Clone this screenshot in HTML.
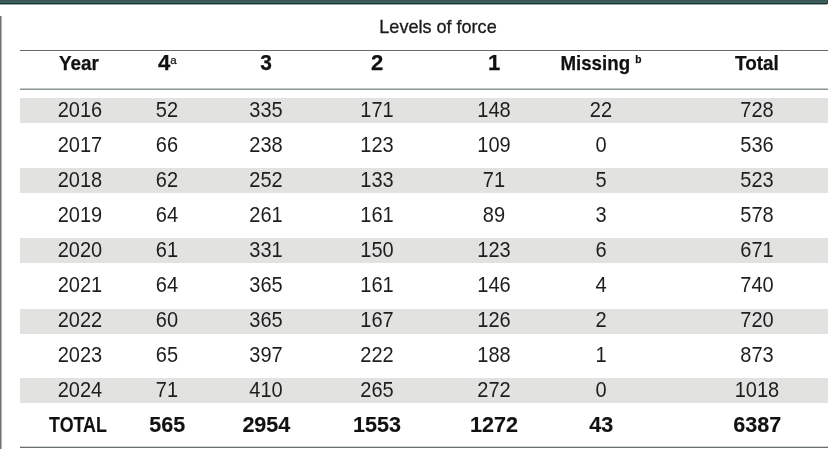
<!DOCTYPE html>
<html><head><meta charset="utf-8"><title>Levels of force</title><style>
html,body{margin:0;padding:0;background:#fff;}
body{width:829px;height:449px;position:relative;overflow:hidden;font-family:"Liberation Sans",Arial,sans-serif;}
.bar{position:absolute;left:0;top:0;width:828px;height:4px;box-shadow:inset -1px 0 0 #2a4746;background:linear-gradient(#3a5757 0,#3a5858 2px,#3e6260 2px,#3e6260 3px,#163535 3px,#163535 4px);}
.bar2{position:absolute;left:0;top:4px;width:827px;height:1px;background:#9aa6a5;}
.vl{position:absolute;left:0;top:16px;width:1px;height:433px;background:#6b7372;box-shadow:1px 0 0 #b3b8b7;}
.hl{position:absolute;left:20px;width:808px;}
.st{position:absolute;left:20px;width:808px;height:25px;background:#e2e2e1;}
.c{position:absolute;width:200px;height:0;text-align:center;white-space:nowrap;line-height:0;transform-origin:100px 0;}
.d{color:#1e1e1e;}
.h{font-weight:bold;color:#111;-webkit-text-stroke:0.25px #111;}
.t{font-weight:bold;color:#111;-webkit-text-stroke:0.15px #111;}
.title{color:#1a1a1a;-webkit-text-stroke:0.3px #1a1a1a;}
.sup{position:relative;top:-6.3px;font-size:11.5px;font-weight:normal;}
.sup.b{font-weight:bold;}
</style></head><body>
<div class="bar"></div>
<div class="bar2"></div>
<div class="vl"></div>
<div class="hl" style="top:50px;height:1px;background:#646a69;"></div>
<div class="hl" style="top:88px;height:1px;background:#c3c9c8;"></div>
<div class="hl" style="top:89px;height:1px;background:#8b9391;"></div>
<div class="hl" style="top:446px;height:1px;background:#d0d4d4;"></div>
<div class="hl" style="top:447px;height:1px;background:#6a7070;"></div>
<div class="st" style="top:98px"></div>
<div class="st" style="top:168px"></div>
<div class="st" style="top:238px"></div>
<div class="st" style="top:309px"></div>
<div class="st" style="top:378px"></div>
<div class="c title" style="left:338.00px;top:26.63px;font-size:17.8px;transform:scaleX(1.015)">Levels of force</div>
<div class="c h" style="left:-20.70px;top:62.72px;font-size:21px;transform:scaleX(0.9)">Year</div>
<div class="c h" style="left:67.30px;top:62.98px;font-size:22px">4<span class="sup">a</span></div>
<div class="c h" style="left:166.30px;top:62.98px;font-size:22px;transform:scaleX(0.95)">3</div>
<div class="c h" style="left:277.00px;top:62.98px;font-size:22px">2</div>
<div class="c h" style="left:394.00px;top:62.98px;font-size:22px">1</div>
<div class="c h" style="left:500.60px;top:62.72px;font-size:21px;transform:scaleX(0.891)">Missing <span class="sup b">b</span></div>
<div class="c h" style="left:657.00px;top:62.72px;font-size:21px;transform:scaleX(0.9)">Total</div>
<div class="c d" style="left:-20.50px;top:109.58px;font-size:22px;transform:scaleX(0.91)">2016</div>
<div class="c d" style="left:67.30px;top:109.58px;font-size:22px;transform:scaleX(0.91)">52</div>
<div class="c d" style="left:166.30px;top:109.58px;font-size:22px;transform:scaleX(0.91)">335</div>
<div class="c d" style="left:277.00px;top:109.58px;font-size:22px;transform:scaleX(0.91)">171</div>
<div class="c d" style="left:394.00px;top:109.58px;font-size:22px;transform:scaleX(0.91)">148</div>
<div class="c d" style="left:500.90px;top:109.58px;font-size:22px;transform:scaleX(0.91)">22</div>
<div class="c d" style="left:657.40px;top:109.58px;font-size:22px;transform:scaleX(0.91)">728</div>
<div class="c d" style="left:-20.50px;top:144.58px;font-size:22px;transform:scaleX(0.91)">2017</div>
<div class="c d" style="left:67.30px;top:144.58px;font-size:22px;transform:scaleX(0.91)">66</div>
<div class="c d" style="left:166.30px;top:144.58px;font-size:22px;transform:scaleX(0.91)">238</div>
<div class="c d" style="left:277.00px;top:144.58px;font-size:22px;transform:scaleX(0.91)">123</div>
<div class="c d" style="left:394.00px;top:144.58px;font-size:22px;transform:scaleX(0.91)">109</div>
<div class="c d" style="left:500.90px;top:144.58px;font-size:22px;transform:scaleX(0.91)">0</div>
<div class="c d" style="left:657.40px;top:144.58px;font-size:22px;transform:scaleX(0.91)">536</div>
<div class="c d" style="left:-20.50px;top:179.58px;font-size:22px;transform:scaleX(0.91)">2018</div>
<div class="c d" style="left:67.30px;top:179.58px;font-size:22px;transform:scaleX(0.91)">62</div>
<div class="c d" style="left:166.30px;top:179.58px;font-size:22px;transform:scaleX(0.91)">252</div>
<div class="c d" style="left:277.00px;top:179.58px;font-size:22px;transform:scaleX(0.91)">133</div>
<div class="c d" style="left:394.00px;top:179.58px;font-size:22px;transform:scaleX(0.91)">71</div>
<div class="c d" style="left:500.90px;top:179.58px;font-size:22px;transform:scaleX(0.91)">5</div>
<div class="c d" style="left:657.40px;top:179.58px;font-size:22px;transform:scaleX(0.91)">523</div>
<div class="c d" style="left:-20.50px;top:214.58px;font-size:22px;transform:scaleX(0.91)">2019</div>
<div class="c d" style="left:67.30px;top:214.58px;font-size:22px;transform:scaleX(0.91)">64</div>
<div class="c d" style="left:166.30px;top:214.58px;font-size:22px;transform:scaleX(0.91)">261</div>
<div class="c d" style="left:277.00px;top:214.58px;font-size:22px;transform:scaleX(0.91)">161</div>
<div class="c d" style="left:394.00px;top:214.58px;font-size:22px;transform:scaleX(0.91)">89</div>
<div class="c d" style="left:500.90px;top:214.58px;font-size:22px;transform:scaleX(0.91)">3</div>
<div class="c d" style="left:657.40px;top:214.58px;font-size:22px;transform:scaleX(0.91)">578</div>
<div class="c d" style="left:-20.50px;top:249.58px;font-size:22px;transform:scaleX(0.91)">2020</div>
<div class="c d" style="left:67.30px;top:249.58px;font-size:22px;transform:scaleX(0.91)">61</div>
<div class="c d" style="left:166.30px;top:249.58px;font-size:22px;transform:scaleX(0.91)">331</div>
<div class="c d" style="left:277.00px;top:249.58px;font-size:22px;transform:scaleX(0.91)">150</div>
<div class="c d" style="left:394.00px;top:249.58px;font-size:22px;transform:scaleX(0.91)">123</div>
<div class="c d" style="left:500.90px;top:249.58px;font-size:22px;transform:scaleX(0.91)">6</div>
<div class="c d" style="left:657.40px;top:249.58px;font-size:22px;transform:scaleX(0.91)">671</div>
<div class="c d" style="left:-20.50px;top:284.58px;font-size:22px;transform:scaleX(0.91)">2021</div>
<div class="c d" style="left:67.30px;top:284.58px;font-size:22px;transform:scaleX(0.91)">64</div>
<div class="c d" style="left:166.30px;top:284.58px;font-size:22px;transform:scaleX(0.91)">365</div>
<div class="c d" style="left:277.00px;top:284.58px;font-size:22px;transform:scaleX(0.91)">161</div>
<div class="c d" style="left:394.00px;top:284.58px;font-size:22px;transform:scaleX(0.91)">146</div>
<div class="c d" style="left:500.90px;top:284.58px;font-size:22px;transform:scaleX(0.91)">4</div>
<div class="c d" style="left:657.40px;top:284.58px;font-size:22px;transform:scaleX(0.91)">740</div>
<div class="c d" style="left:-20.50px;top:319.58px;font-size:22px;transform:scaleX(0.91)">2022</div>
<div class="c d" style="left:67.30px;top:319.58px;font-size:22px;transform:scaleX(0.91)">60</div>
<div class="c d" style="left:166.30px;top:319.58px;font-size:22px;transform:scaleX(0.91)">365</div>
<div class="c d" style="left:277.00px;top:319.58px;font-size:22px;transform:scaleX(0.91)">167</div>
<div class="c d" style="left:394.00px;top:319.58px;font-size:22px;transform:scaleX(0.91)">126</div>
<div class="c d" style="left:500.90px;top:319.58px;font-size:22px;transform:scaleX(0.91)">2</div>
<div class="c d" style="left:657.40px;top:319.58px;font-size:22px;transform:scaleX(0.91)">720</div>
<div class="c d" style="left:-20.50px;top:354.58px;font-size:22px;transform:scaleX(0.91)">2023</div>
<div class="c d" style="left:67.30px;top:354.58px;font-size:22px;transform:scaleX(0.91)">65</div>
<div class="c d" style="left:166.30px;top:354.58px;font-size:22px;transform:scaleX(0.91)">397</div>
<div class="c d" style="left:277.00px;top:354.58px;font-size:22px;transform:scaleX(0.91)">222</div>
<div class="c d" style="left:394.00px;top:354.58px;font-size:22px;transform:scaleX(0.91)">188</div>
<div class="c d" style="left:500.90px;top:354.58px;font-size:22px;transform:scaleX(0.91)">1</div>
<div class="c d" style="left:657.40px;top:354.58px;font-size:22px;transform:scaleX(0.91)">873</div>
<div class="c d" style="left:-20.50px;top:389.58px;font-size:22px;transform:scaleX(0.91)">2024</div>
<div class="c d" style="left:67.30px;top:389.58px;font-size:22px;transform:scaleX(0.91)">71</div>
<div class="c d" style="left:166.30px;top:389.58px;font-size:22px;transform:scaleX(0.91)">410</div>
<div class="c d" style="left:277.00px;top:389.58px;font-size:22px;transform:scaleX(0.91)">265</div>
<div class="c d" style="left:394.00px;top:389.58px;font-size:22px;transform:scaleX(0.91)">272</div>
<div class="c d" style="left:500.90px;top:389.58px;font-size:22px;transform:scaleX(0.91)">0</div>
<div class="c d" style="left:657.40px;top:389.58px;font-size:22px;transform:scaleX(0.91)">1018</div>
<div class="c t" style="left:-22.50px;top:424.55px;font-size:21.5px;transform:scaleX(0.83)">TOTAL</div>
<div class="c t" style="left:67.30px;top:424.55px;font-size:21.5px">565</div>
<div class="c t" style="left:166.30px;top:424.55px;font-size:21.5px">2954</div>
<div class="c t" style="left:277.00px;top:424.55px;font-size:21.5px">1553</div>
<div class="c t" style="left:394.00px;top:424.55px;font-size:21.5px">1272</div>
<div class="c t" style="left:501.30px;top:424.55px;font-size:21.5px">43</div>
<div class="c t" style="left:657.20px;top:424.55px;font-size:21.5px">6387</div>
</body></html>
